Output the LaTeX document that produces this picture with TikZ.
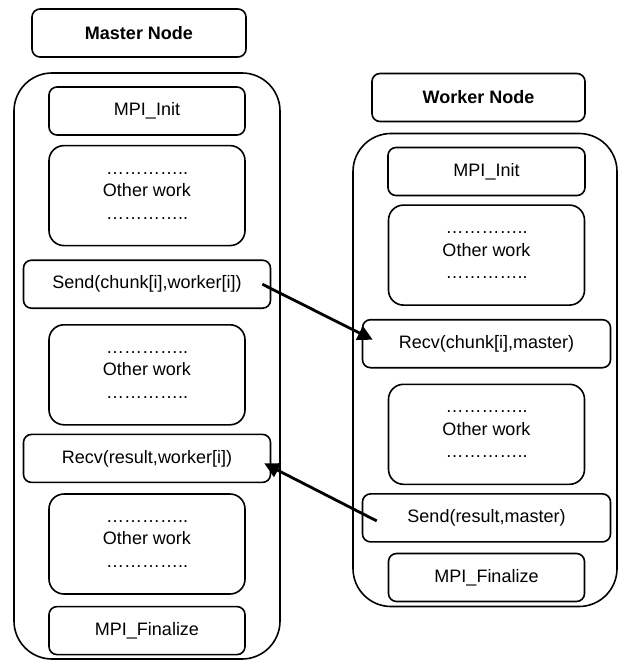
\documentclass[tikz,border=0pt]{standalone}
\usepackage{fontspec}
\setmainfont{Liberation Sans}
\usetikzlibrary{positioning}
\usetikzlibrary{arrows.meta}

\begin{document}
\begin{tikzpicture}[x=1pt,y=-1pt,
		every node/.style={font=\fontsize{18}{22.5}\selectfont},
		stepbox/.style={draw,line width=1.6pt,rounded corners=8pt,minimum height=48pt,inner sep=0pt},
		titlebox/.style={stepbox,font=\fontsize{18}{22.5}\selectfont\bfseries},
		workbox/.style={draw,line width=1.6pt,rounded corners=15pt,minimum width=196pt,minimum height=100pt,align=center,inner sep=0pt},
		hostbox/.style={draw,line width=1.6pt,rounded corners=38pt,inner sep=0pt},
		msg/.style={line width=2.8pt,-{Triangle[length=15pt,width=15pt]}}]
		\useasboundingbox (0,0) rectangle (618,660);
		\node[hostbox,minimum width=266pt,minimum height=586pt] at (147,366) (mhost) {};
		\node[titlebox,minimum width=214pt] at (139,33) (mlabel) {Master Node};
		\node[stepbox,minimum width=196pt] at (147,111) (minit) {MPI\_Init};
		\node[workbox,below = 9pt of minit] (mwork1) {…………..\\Other work\\…………..};
		\node[stepbox,minimum width=247pt,below = 13pt of mwork1] (msend) {Send(chunk[i],worker[i])};
		\node[workbox,below = 15pt of msend] (mwork2) {…………..\\Other work\\…………..};
		\node[stepbox,minimum width=247pt,below = 8pt of mwork2] (mrecv) {Recv(result,worker[i])};
		\node[workbox,below = 10pt of mrecv] (mwork3) {…………..\\Other work\\…………..};
		\node[stepbox,minimum width=196pt,below = 11pt of mwork3] (mfin) {MPI\_Finalize};
		\node[hostbox,minimum width=264pt,minimum height=473pt] at (485,370) (whost) {};
		\node[titlebox,minimum width=213pt] at (478.5,97.5) (wlabel) {Worker Node};
		\node[stepbox,minimum width=197pt] at (486.5,171.5) (winit) {MPI\_Init};
		\node[workbox,below = 8pt of winit] (wwork1) {…………..\\Other work\\…………..};
		\node[stepbox,minimum width=248pt,below = 13pt of wwork1] (wrecv) {Recv(chunk[i],master)};
		\node[workbox,below = 15pt of wrecv] (wwork2) {…………..\\Other work\\…………..};
		\node[stepbox,minimum width=248pt,below = 8pt of wwork2] (wsend) {Send(result,master)};
		\node[stepbox,minimum width=196pt,below = 10pt of wsend] (wfin) {MPI\_Finalize};
		\draw[msg] ([xshift=-9pt]msend.east) -- ([xshift=11pt,yshift=4pt]wrecv.west);
		\draw[msg] ([xshift=15pt,yshift=-3pt]wsend.west) -- ([xshift=-7pt,yshift=-5pt]mrecv.east);
	\end{tikzpicture}
\end{document}
